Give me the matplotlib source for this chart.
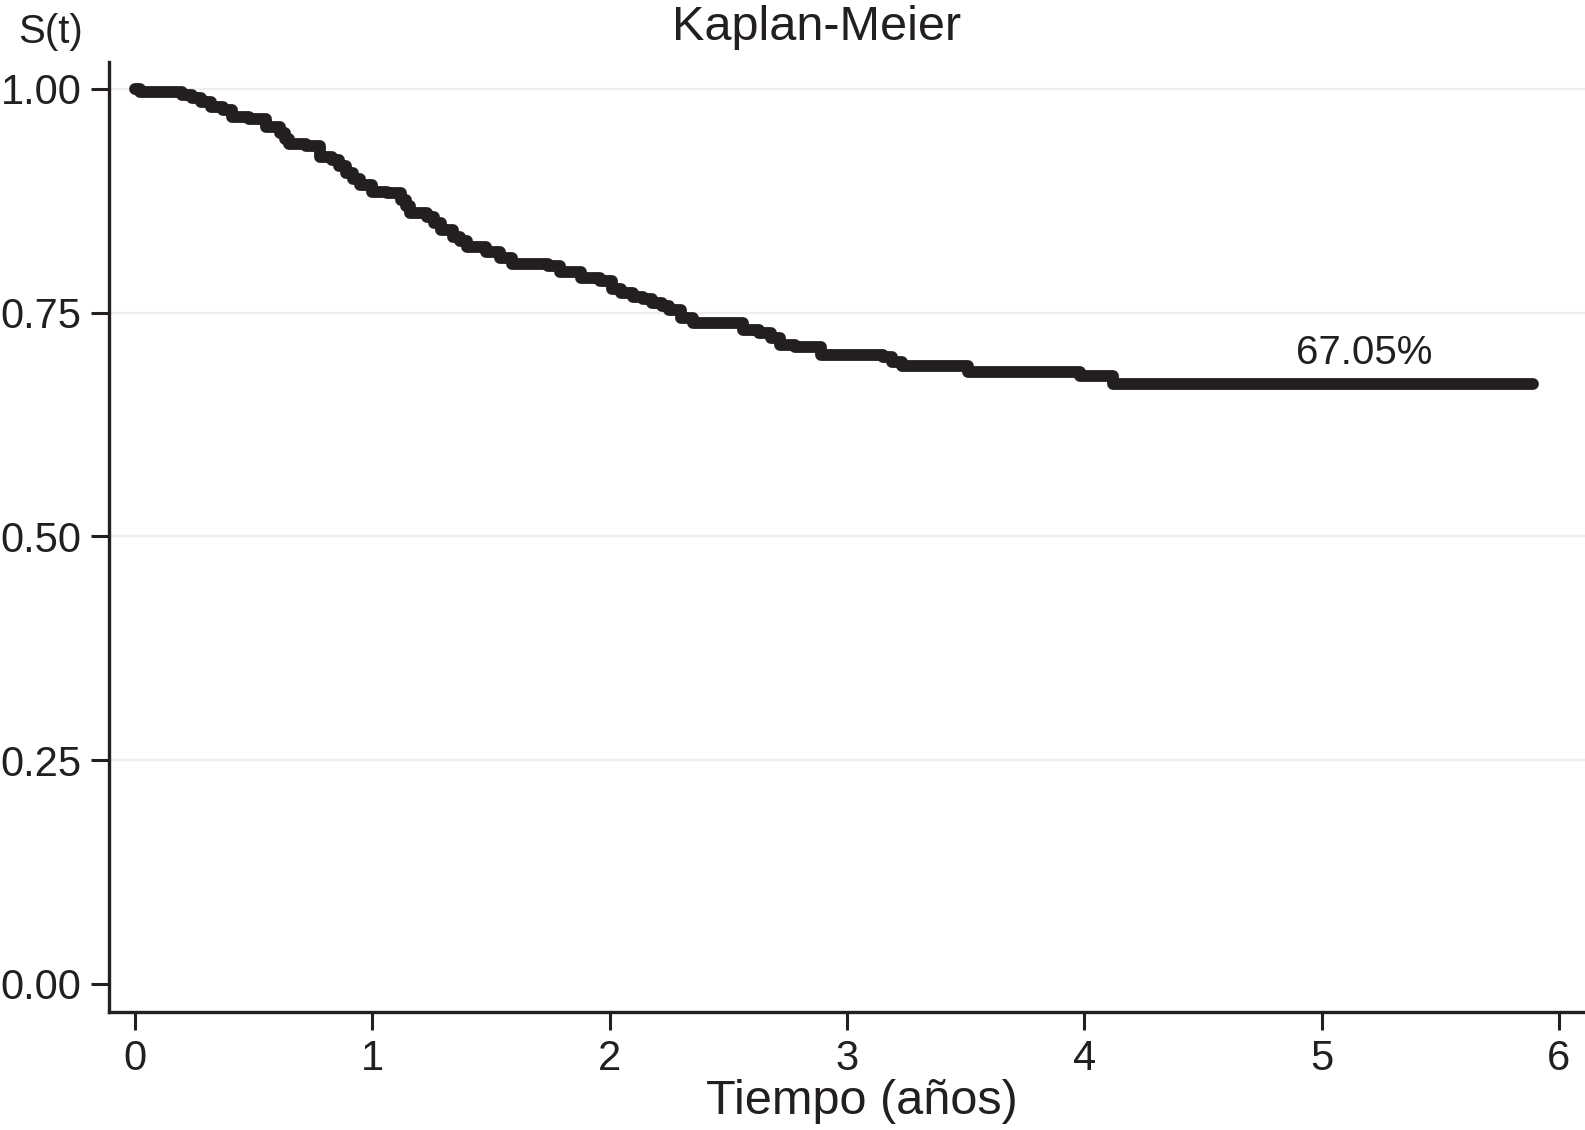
import matplotlib
matplotlib.use("Agg")
import matplotlib.pyplot as plt

plt.rcParams['font.family'] = ['Liberation Sans', 'DejaVu Sans']

# Kaplan-Meier step curve (time in years, survival)
tiempo = [0.00, 0.02, 0.20, 0.24, 0.28, 0.32, 0.37, 0.41, 0.48, 0.55, 0.61, 0.63,
          0.65, 0.72, 0.78, 0.83, 0.86, 0.89, 0.92, 0.95, 1.00, 1.06, 1.12, 1.14,
          1.16, 1.23, 1.26, 1.29, 1.34, 1.37, 1.40, 1.48, 1.54, 1.59, 1.74, 1.79,
          1.88, 1.96, 2.01, 2.05, 2.10, 2.14, 2.18, 2.22, 2.25, 2.30, 2.35, 2.52,
          2.56, 2.63, 2.68, 2.72, 2.78, 2.89, 3.15, 3.19, 3.23, 3.51, 3.98, 4.12, 5.89]
supervivencia = [1.000, 0.997, 0.993, 0.990, 0.986, 0.980, 0.977, 0.969, 0.966, 0.958,
                 0.951, 0.944, 0.938, 0.936, 0.924, 0.921, 0.914, 0.906, 0.899, 0.893,
                 0.885, 0.884, 0.876, 0.869, 0.861, 0.857, 0.850, 0.843, 0.835, 0.830,
                 0.824, 0.818, 0.811, 0.804, 0.802, 0.795, 0.789, 0.785, 0.776, 0.772,
                 0.768, 0.765, 0.761, 0.757, 0.753, 0.744, 0.739, 0.739, 0.731, 0.727,
                 0.722, 0.714, 0.712, 0.703, 0.700, 0.695, 0.690, 0.684, 0.679, 0.6705,
                 0.6705]

x_ticks = [0, 1, 2, 3, 4, 5, 6]
y_ticks = [0.00, 0.25, 0.50, 0.75, 1.00]
y_tick_labels = ["0.00", "0.25", "0.50", "0.75", "1.00"]
etiqueta_final = "67.05%"

fig = plt.figure(figsize=(15.85, 11.3), dpi=100)
ax = fig.add_axes([0.069, 0.1047, 0.931, 0.8403])

# light horizontal grid
for yv in y_ticks[1:]:
    ax.axhline(yv, color="#eeeeee", lw=1.6, zorder=0)

ax.step(tiempo, supervivencia, where="post", color="#231f20", lw=8.5,
        solid_capstyle="round", solid_joinstyle="round", zorder=3)

ax.text(5.18, 0.705, etiqueta_final, fontsize=29, color="#231f20",
        ha="center", va="center")

ax.set_xlim(-0.108, 6.11)
ax.set_ylim(-0.031, 1.03)
ax.set_xticks(x_ticks)
ax.set_yticks(y_ticks)
ax.set_yticklabels(y_tick_labels)

for s in ["top", "right"]:
    ax.spines[s].set_visible(False)
for s in ["left", "bottom"]:
    ax.spines[s].set_linewidth(2.4)
    ax.spines[s].set_color("#231f20")

ax.tick_params(axis="both", length=13, width=2.2, color="#231f20",
               labelsize=30, labelcolor="#231f20", pad=7)

fig.text(0.515, 0.976, "Kaplan-Meier", fontsize=35, ha="center", va="center",
         color="#231f20")
fig.text(0.032, 0.972, "S(t)", fontsize=29, ha="center", va="center",
         color="#231f20")
fig.text(0.544, 0.025, "Tiempo (años)", fontsize=35, ha="center", va="center",
         color="#231f20")

plt.savefig("out.png", dpi=100)
plt.close()
